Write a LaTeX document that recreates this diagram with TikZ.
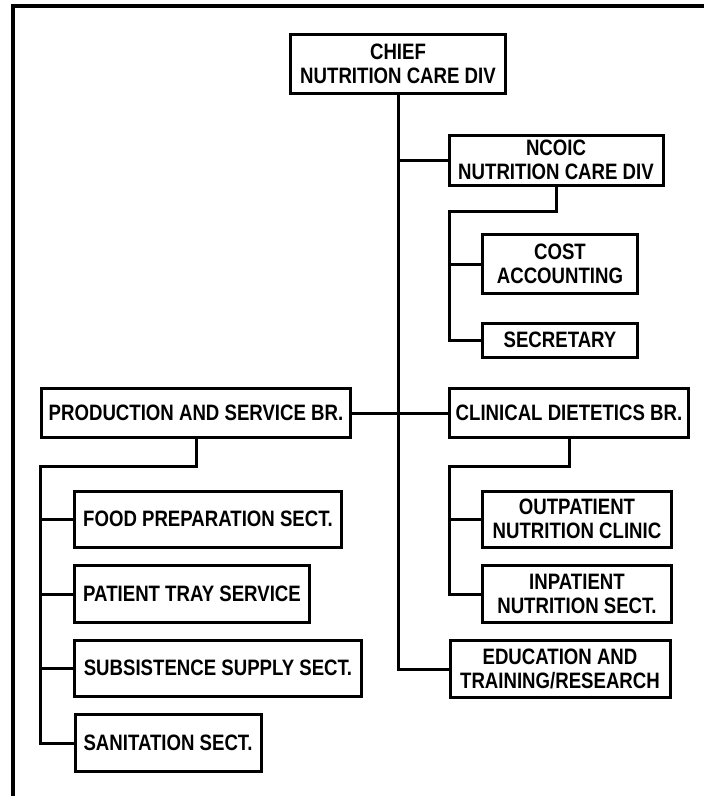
\documentclass[tikz,border=0pt]{standalone}
\usepackage{fontspec}
\newfontfamily\chartfont[FakeStretch = 0.835]{Liberation Sans}
\usetikzlibrary{
    calc
}
\tikzset {
    unit box/.style = {
        draw, rectangle, line width = 3pt, inner sep = 0pt, align = center,
        font = \chartfont\bfseries\fontsize{22.3}{24}\selectfont
    },
    link/.style = {line width = 3pt},
    frame/.style = {line width = 4pt}
}

\begin{document}
\begin{tikzpicture}[x = 1pt, y = -1pt]
            \useasboundingbox (0, 0) rectangle (704, 796);
            \draw [frame] (706, 6) -- (13, 6) -- (13, 798);
            % top of the division
            \node (chief) [unit box, minimum width = 215, minimum height = 59] at (398, 64) {CHIEF\\NUTRITION CARE DIV};
            \node (ncoic) [unit box, minimum width = 214, minimum height = 50] at (556, 160) {NCOIC\\NUTRITION CARE DIV};
            \node (cost) [unit box, minimum width = 155, minimum height = 59] at (560, 264) {COST\\ACCOUNTING};
            \node (sec) [unit box, minimum width = 155, minimum height = 34] at (560, 340) {SECRETARY};
            % branches
            \node (prod) [unit box, minimum width = 309, minimum height = 49] at (196, 413) {PRODUCTION AND SERVICE BR.};
            \node (clin) [unit box, minimum width = 239, minimum height = 49] at (569, 413) {CLINICAL DIETETICS BR.};
            \node (food) [unit box, minimum width = 267, minimum height = 56] at (208, 519) {FOOD PREPARATION SECT.};
            \node (tray) [unit box, minimum width = 235, minimum height = 57] at (192, 594) {PATIENT TRAY SERVICE};
            \node (subs) [unit box, minimum width = 287, minimum height = 56] at (218, 668) {SUBSISTENCE SUPPLY SECT.};
            \node (sani) [unit box, minimum width = 186, minimum height = 57] at (168, 743) {SANITATION SECT.};
            \node (outp) [unit box, minimum width = 189, minimum height = 56] at (577, 519) {OUTPATIENT\\NUTRITION CLINIC};
            \node (inp) [unit box, minimum width = 189, minimum height = 57] at (577, 594) {INPATIENT\\NUTRITION SECT.};
            \node (edu) [unit box, minimum width = 220, minimum height = 57] at (560, 669) {EDUCATION AND\\TRAINING/RESEARCH};
            % connectors
            \coordinate (nbus) at (449, 211);
            \coordinate (pbus) at (40, 466);
            \coordinate (cbus) at (449, 466);
            \draw [link] (chief.south) |- (edu.west);
            \draw [link] (chief.south |- ncoic.west) -- (ncoic.west);
            \draw [link] (prod.east) -- (clin.west);
            \draw [link] (ncoic.south) |- (nbus) |- (sec.west);
            \draw [link] (nbus |- cost.west) -- (cost.west);
            \draw [link] (prod.south) |- (pbus) |- (sani.west);
            \foreach \n in {food, tray, subs}
                \draw [link] (pbus |- \n.west) -- (\n.west);
            \draw [link] (clin.south) |- (cbus) |- (inp.west);
            \draw [link] (cbus |- outp.west) -- (outp.west);
        \end{tikzpicture}
\end{document}
